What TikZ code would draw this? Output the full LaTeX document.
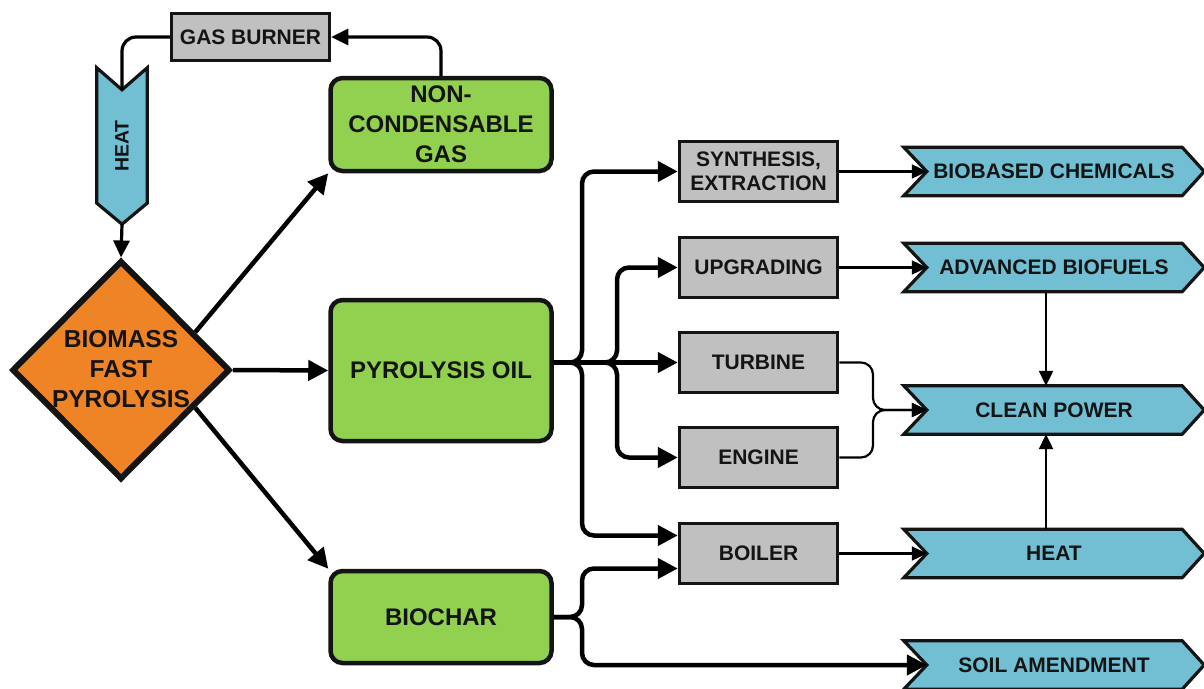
\documentclass[tikz,border=0pt]{standalone}
\usepackage{fontspec}
\setmainfont{Liberation Sans}
\usetikzlibrary{shapes.geometric,arrows.meta,backgrounds}
\definecolor{leaf}{HTML}{92D050}
\definecolor{orng}{HTML}{EF8427}
\definecolor{sky}{HTML}{72BED3}
\definecolor{grey}{HTML}{C0C0C0}
\definecolor{ink}{HTML}{141414}
\begin{document}
\begin{tikzpicture}[x=1pt,y=-1pt,
  greenbox/.style={draw=ink, line width=4.5pt, fill=leaf, rounded corners=12pt,
    minimum width=221pt, inner sep=0pt, align=center, text=ink,
    font=\fontsize{24}{30}\selectfont\bfseries},
  graybox/.style={draw=ink, line width=3.5pt, fill=grey, minimum width=158pt,
    minimum height=60pt, inner sep=0pt, align=center, text=ink,
    font=\fontsize{21}{24}\selectfont\bfseries},
  chev/.style={minimum width=300pt, minimum height=48pt, inner sep=0pt,
    text=ink, font=\fontsize{21}{24}\selectfont\bfseries},
  chevshape/.style={draw=ink, line width=3.2pt, fill=sky, line join=miter},
  thk/.style={draw=black, line width=4.5pt, -{Triangle[length=20pt,width=20pt]}},
  med/.style={draw=black, line width=3.2pt, -{Triangle[length=17pt,width=16pt]}},
  thn/.style={draw=black, line width=2.2pt, -{Triangle[length=15pt,width=14pt]}},
  plainmed/.style={draw=black, line width=3.2pt}
]
\useasboundingbox (0,0) rectangle (1204,688);

% --- left part
\node[draw=ink, line width=3.5pt, fill=grey, minimum width=158pt, minimum height=47pt,
  inner sep=0pt, text=ink, font=\fontsize{21}{24}\selectfont\bfseries] (gb) at (250.5,37) {GAS BURNER};
\node[minimum width=50pt, minimum height=156pt, inner sep=0pt, text=ink,
  font=\fontsize{19.5}{22}\selectfont\bfseries] (hv) at (122,146) {\rotatebox{90}{HEAT}};
\node[diamond, aspect=1, draw=ink, line width=6pt, fill=orng, minimum width=218pt,
  minimum height=219pt, inner sep=0pt] (bio) at (121,370) {};
\node[align=center, text=ink, inner sep=0pt, font=\fontsize{24.5}{30}\selectfont\bfseries]
  (biot) at (121,369) {BIOMASS\\FAST\\PYROLYSIS};

% --- green boxes
\node[greenbox, minimum height=93pt] (ncg) at (441,124.5) {NON-\\CONDENSABLE\\GAS};
\node[greenbox, minimum height=141pt] (oil) at (441,370.5) {PYROLYSIS OIL};
\node[greenbox, minimum height=92pt] (bch) at (441,617) {BIOCHAR};

% --- gray boxes
\node[graybox] (syn)  at (758.5,171.5) {SYNTHESIS,\\EXTRACTION};
\node[graybox] (upg)  at (758.5,267.5) {UPGRADING};
\node[graybox] (turb) at (758.5,362.5) {TURBINE};
\node[graybox] (eng)  at (758.5,457.5) {ENGINE};
\node[graybox] (boil) at (758.5,553.5) {BOILER};

% --- chevrons
\node[chev] (bcc)  at (1054,171.5) {BIOBASED CHEMICALS};
\node[chev] (abf)  at (1054,267.5) {ADVANCED BIOFUELS};
\node[chev] (cpw)  at (1054,410)   {CLEAN POWER};
\node[chev] (hto)  at (1054,553.5) {HEAT};
\node[chev] (soil) at (1054,665)   {SOIL AMENDMENT};

\begin{pgfonlayer}{background}
\foreach \n in {bcc,abf,cpw,hto,soil}{
  \path[chevshape] (\n.north west) -- ([xshift=-22pt]\n.north east) -- (\n.east)
    -- ([xshift=-22pt]\n.south east) -- (\n.south west) -- ([xshift=23pt]\n.west) -- cycle;
}
\path[chevshape] (hv.north west) -- ([yshift=-22pt]hv.north) -- (hv.north east)
  -- ([yshift=21pt]hv.south east) -- (hv.south) -- ([yshift=21pt]hv.south west) -- cycle;
\end{pgfonlayer}

% --- helper coordinates
\coordinate (trA) at (582,0);
\coordinate (trB) at (617,0);
\coordinate (mx)  at (873,0);
\coordinate (b1) at ([yshift=18pt]boil.west);
\coordinate (b2) at ([yshift=-15pt]boil.west);
\coordinate (bcin) at ([xshift=23pt]bcc.west);
\coordinate (abin) at ([xshift=23pt]abf.west);
\coordinate (cpin) at ([xshift=23pt]cpw.west);
\coordinate (htin) at ([xshift=23pt]hto.west);
\coordinate (soin) at ([xshift=23pt]soil.west);
\coordinate (oo) at (oil.east |- turb.west);

% --- gas loop
\draw[med, rounded corners=14pt] (ncg.north) |- (gb.east);
\draw[plainmed, rounded corners=14pt] (gb.west) -| ([yshift=-22pt]hv.north);
\draw[med] (hv.south) -- (bio.north);

% --- diamond outputs
\draw[thk] (bio.27) -- (ncg.south west);
\draw[thk] (bio.east) -- (oil.west);
\draw[thk] (bio.-27) -- (bch.north west);

% --- pyrolysis oil branches
\draw[thk, rounded corners=12pt] (oo) -- (trA |- oo) -- (trA |- syn.west) -- (syn.west);
\draw[thk, rounded corners=12pt] (oo) -- (trA |- oo) -- (trA |- b1) -- (b1);
\draw[thk, rounded corners=12pt] (oo) -- (trB |- oo) -- (trB |- upg.west) -- (upg.west);
\draw[thk, rounded corners=12pt] (oo) -- (trB |- oo) -- (trB |- eng.west) -- (eng.west);
\draw[thk] (oo) -- (turb.west);

% --- biochar branches
\draw[thk, rounded corners=12pt] (bch.east) -- (trA |- bch.east) -- (trA |- b2) -- (b2);
\draw[thk, rounded corners=12pt] (bch.east) -- (trA |- bch.east) -- (trA |- soin) -- (soin);

% --- to products
\draw[thn] (syn.east) -- (bcin);
\draw[thn] (upg.east) -- (abin);
\draw[thn] (boil.east) -- (htin);
\draw[thn, rounded corners=12pt] (turb.east) -- (mx |- turb.east) -- (mx |- cpin) -- (cpin);
\draw[thn, rounded corners=12pt] (eng.east) -- (mx |- eng.east) -- (mx |- cpin) -- (cpin);
\draw[thn] ([xshift=-8pt]abf.south) -- ([xshift=-8pt]cpw.north);
\draw[thn] ([xshift=-8pt]hto.north) -- ([xshift=-8pt]cpw.south);
\end{tikzpicture}
\end{document}
